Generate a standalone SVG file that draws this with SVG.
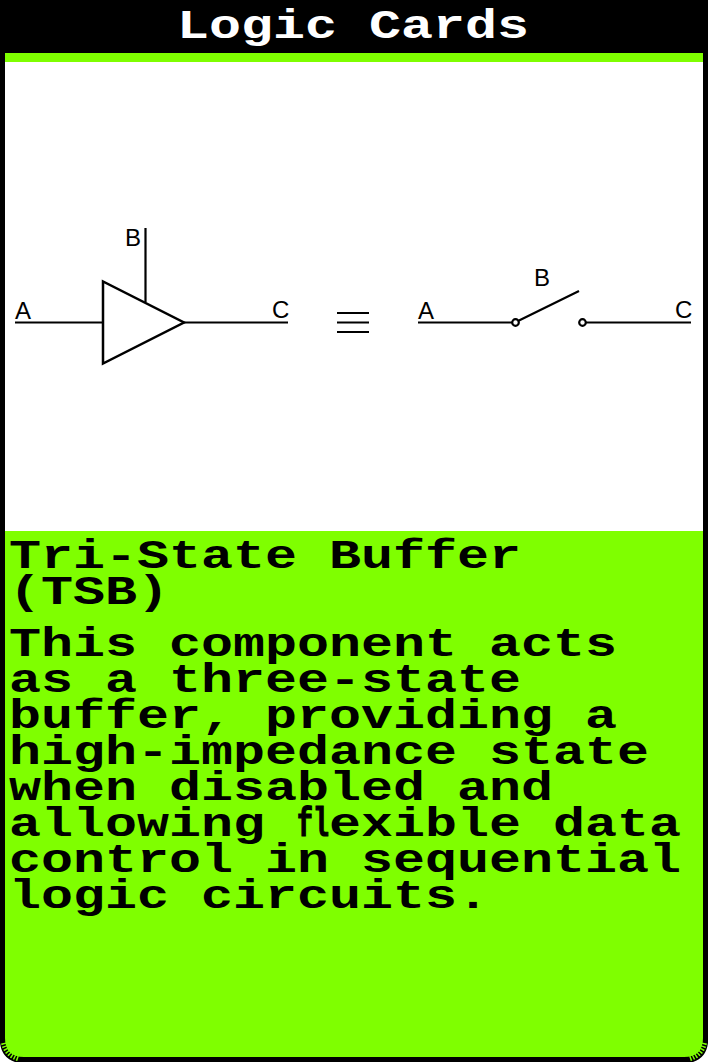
<svg xmlns="http://www.w3.org/2000/svg" width="708" height="1062" viewBox="0 0 708 1062">
<style>
.px{font-family:"Liberation Mono","DejaVu Sans Mono",monospace;font-weight:700;font-size:40px;fill:#000}
.ln{stroke:#000;stroke-width:2.2;fill:none}
.lb{font-family:"Liberation Sans",Arial,sans-serif;font-size:24px;fill:#000}
</style>
<g id="card">
<rect width="708" height="1062" fill="#000"/>
<rect x="5" y="53" width="698" height="9" fill="#7fff00"/>
<rect x="5" y="62" width="698" height="469" fill="#fff"/>
<path d="M5 531H703V1038Q703 1057 684 1057H24Q5 1057 5 1038Z" fill="#7fff00"/>
<path d="M0 1043Q2 1058 15 1062H0Z" fill="#fff"/>
<path d="M708 1043Q706 1058 693 1062H708Z" fill="#fff"/>
<path d="M3.5 1043Q6 1055 19 1059" fill="none" stroke="#7fff00" stroke-width="5" stroke-dasharray="1.5 1.5"/>
<path d="M704.5 1043Q702 1055 689 1059" fill="none" stroke="#7fff00" stroke-width="5" stroke-dasharray="1.5 1.5"/>
</g>
<g id="title">
<text class="px" style="fill:#fff" transform="translate(177 38) scale(1.3333 1)">Logic Cards</text>
</g>
<g id="connectors">
<path class="ln" d="M15 322.5H103M184 322.5H288M145.5 228V302"/>
<path class="ln" d="M337 313H369M337 322.5H369M337 332H369" style="stroke-width:2"/>
<path class="ln" d="M418 322.5H512M586 322.5H691M518 321L579 291"/>
</g>
<g id="buffer"><path class="ln" style="stroke-width:2.5" d="M103 281.5V363.5L184 322.5Z"/></g>
<g id="switch-a"><circle class="ln" cx="515.5" cy="322.5" r="3.3"/></g>
<g id="switch-c"><circle class="ln" cx="582.5" cy="322.5" r="3.3"/></g>
<g id="labels">
<text class="lb" x="15" y="319">A</text>
<text class="lb" x="125" y="246">B</text>
<text class="lb" x="272" y="318">C</text>
<text class="lb" x="418" y="319">A</text>
<text class="lb" x="534" y="286">B</text>
<text class="lb" x="675" y="318">C</text>
</g>
<g id="description">
<text class="px" transform="translate(9 568) scale(1.3333 1)">Tri-State Buffer</text>
<text class="px" transform="translate(9 604) scale(1.3333 1)">(TSB)</text>
<text class="px" transform="translate(9 656) scale(1.3333 1)">This component acts</text>
<text class="px" transform="translate(9 692) scale(1.3333 1)">as a three-state</text>
<text class="px" transform="translate(9 728) scale(1.3333 1)">buffer, providing a</text>
<text class="px" transform="translate(9 764) scale(1.3333 1)">high-impedance state</text>
<text class="px" transform="translate(9 800) scale(1.3333 1)">when disabled and</text>
<text class="px" transform="translate(9 836) scale(1.3333 1)">allowing <tspan textLength="24" lengthAdjust="spacingAndGlyphs" stroke="#000" stroke-width="1.2">fl</tspan>exible data</text>
<text class="px" transform="translate(9 872) scale(1.3333 1)">control in sequential</text>
<text class="px" transform="translate(9 908) scale(1.3333 1)">logic circuits.</text>
</g>
</svg>
